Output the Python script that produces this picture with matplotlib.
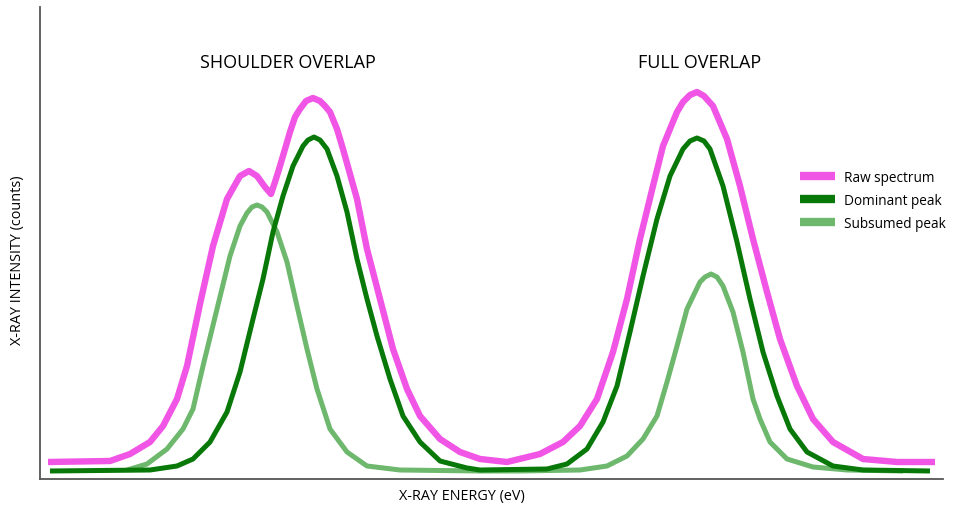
import matplotlib
matplotlib.use("Agg")
import matplotlib.pyplot as plt

# energy axis positions (arbitrary units) and intensities
raw_x = [48, 110, 130, 150, 163, 177, 187, 200, 213, 227, 240, 249, 257, 265, 271,
         275, 280, 290, 295, 300, 306, 313, 320, 325, 330, 337, 343, 357, 367,
         380, 393, 407, 420, 440, 460, 480, 507, 540, 563, 580, 597, 613, 627,
         640, 653, 663, 677, 683, 690, 697, 704, 713, 727, 740, 753, 767, 780,
         797, 813, 833, 863, 897, 935]
raw_y = [17, 18, 25, 37, 53, 80, 113, 175, 233, 280, 303, 308, 303, 292, 285,
         297, 313, 347, 362, 370, 378, 381, 378, 373, 367, 350, 330, 280, 230,
         180, 130, 90, 63, 40, 27, 20, 17, 25, 37, 53, 80, 127, 180,
         240, 293, 333, 367, 377, 384, 387, 383, 373, 340, 293, 240, 187, 140,
         93, 60, 37, 20, 17, 17]

dom_x = [50, 150, 177, 193, 210, 227, 240, 253, 263, 273, 283, 293, 303, 308, 314,
         320, 327, 337, 347, 357, 367, 377, 390, 403, 420, 440, 467, 480, 547,
         567, 587, 603, 617, 630, 643, 657, 670, 683, 690, 697, 704, 710, 723,
         737, 750, 763, 777, 790, 807, 833, 863, 930]
dom_y = [8, 9, 13, 20, 37, 67, 107, 160, 200, 247, 283, 313, 333, 339, 342,
         339, 330, 303, 267, 220, 180, 143, 100, 63, 37, 18, 11, 9, 10,
         15, 30, 57, 93, 147, 203, 260, 303, 330, 338, 341, 338, 330, 293,
         237, 180, 127, 83, 50, 27, 13, 9, 8]

sub_x = [127, 147, 167, 183, 193, 203, 217, 230, 240, 247, 252, 257, 262, 267, 277,
         287, 297, 307, 317, 330, 347, 367, 400, 480, 520, 580, 607, 627, 643,
         657, 667, 677, 687, 700, 705, 711, 717, 723, 733, 743, 753, 760, 770,
         787, 813, 847, 903]
sub_y = [9, 15, 30, 50, 70, 113, 170, 223, 253, 266, 272, 274, 272, 267, 247,
         217, 173, 130, 90, 50, 27, 13, 9, 8, 8, 9, 13, 23, 40,
         63, 97, 133, 170, 197, 202, 205, 202, 193, 167, 127, 80, 60, 37,
         20, 12, 9, 8]

labels = ["Raw spectrum", "Dominant peak", "Subsumed peak"]
colors = ["#f055e6", "#087808", "#6db86d"]

plt.rcParams["font.family"] = ["Open Sans", "DejaVu Sans"]

fig = plt.figure(figsize=(9.54, 5.10), dpi=100)
ax = fig.add_axes([40 / 954, 30 / 510, 903 / 954, 472 / 510])

style = dict(solid_capstyle="butt", solid_joinstyle="round")
ax.plot(raw_x, raw_y, color=colors[0], lw=4.6, label=labels[0], **style)
ax.plot(sub_x, sub_y, color=colors[2], lw=3.6, label=labels[2], **style)
ax.plot(dom_x, dom_y, color=colors[1], lw=3.6, label=labels[1], **style)

ax.set_xlim(40, 943)
ax.set_ylim(0, 472)
ax.set_xticks([])
ax.set_yticks([])
for side in ("top", "right"):
    ax.spines[side].set_visible(False)
for side in ("left", "bottom"):
    ax.spines[side].set_color("#555555")
    ax.spines[side].set_linewidth(1.3)

ax.text(288, 417, "SHOULDER OVERLAP", ha="center", va="center", fontsize=13)
ax.text(700, 417, "FULL OVERLAP", ha="center", va="center", fontsize=13)

fig.text(462 / 954, 1 - 497 / 510, "X-RAY ENERGY (eV)", ha="center", va="center", fontsize=10.4)
fig.text(18 / 954, 1 - 260 / 510, "X-RAY INTENSITY (counts)", ha="center", va="center",
         rotation=90, fontsize=10.4)

handles, labs = ax.get_legend_handles_labels()
order = [labs.index(l) for l in labels]
leg = ax.legend([handles[i] for i in order], labels, frameon=False, fontsize=9.8,
                handlelength=2.55, handletextpad=0.7, labelspacing=0.6,
                loc="upper left", bbox_to_anchor=(793 / 954, 1 - 164 / 510),
                bbox_transform=fig.transFigure, borderpad=0)
for h in leg.get_lines():
    h.set_linewidth(6)

fig.savefig("out.png", dpi=100)
